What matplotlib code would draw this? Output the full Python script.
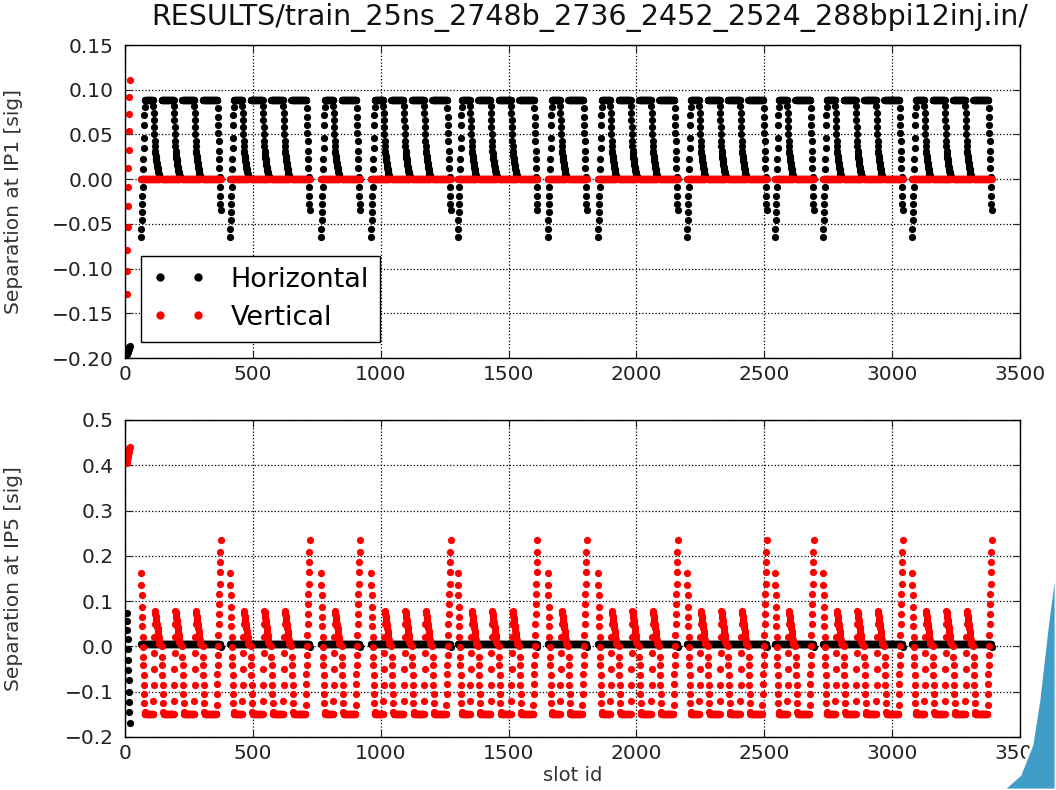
import numpy as np
import matplotlib
matplotlib.use("Agg")
import matplotlib.pyplot as plt
from matplotlib.patches import Polygon
from matplotlib.ticker import FuncFormatter

# filling scheme: start slot of each batch group, trains in each group
group_start = [63, 411, 767, 962, 1302, 1654, 1850, 2198, 2542, 2730, 3078]
trains_per_group = [4, 4, 2, 4, 4, 2, 4, 4, 2, 4, 4]
bunches_per_train = 72
train_spacing = 80

# 12 individual bunches at the start of the ring
ind_slots = [7, 8, 9, 10, 11, 12, 13, 14, 15, 16, 17, 18]
ind_ip1_h = [-0.196, -0.195, -0.194, -0.193, -0.192, -0.191, -0.190, -0.190, -0.189, -0.188, -0.188, -0.187]
ind_ip1_v = [-0.128, -0.103, -0.079, -0.054, -0.030, -0.009, 0.013, 0.033, 0.054, 0.073, 0.092, 0.111]
ind_ip5_h = [0.074, 0.056, 0.037, 0.017, -0.005, -0.031, -0.053, -0.075, -0.101, -0.123, -0.145, -0.170]
ind_ip5_v = [0.405, 0.410, 0.414, 0.418, 0.421, 0.424, 0.427, 0.430, 0.432, 0.435, 0.437, 0.440]

# IP1 horizontal, bunch by bunch along a train
ip1_h_flat = 0.088
ip1_h_first_head = [-0.065, -0.056, -0.046, -0.037, -0.028, -0.019, -0.009, 0.0,
                    0.011, 0.022, 0.035, 0.046, 0.061, 0.072, 0.081]
ip1_h_tail = [0.082, 0.074, 0.066, 0.058, 0.050, 0.043, 0.037, 0.032,
              0.029, 0.026, 0.024, 0.022, 0.020, 0.018, 0.016, 0.014,
              0.012, 0.011, 0.009, 0.008, 0.006, 0.005, 0.004, 0.003]
ip1_h_last_tail = [0.080, 0.070, 0.061, 0.052, 0.043, 0.031, 0.022, 0.013,
                   0.002, -0.009, -0.019, -0.028, -0.035]
ip1_v_flat = 0.0

# IP5 vertical, bunch by bunch along a train
ip5_v_flat = -0.150
ip5_v_first_head = [0.163, 0.135, 0.113, 0.088, 0.066, 0.044, 0.021, -0.002,
                    -0.024, -0.042, -0.064, -0.086, -0.104, -0.126, -0.145]
ip5_v_head = [0.0, -0.024, -0.042, -0.064, -0.086, -0.104, -0.126, -0.145]
ip5_v_tail = [-0.120, -0.085, -0.050, -0.015, 0.020, 0.050,
              0.079, 0.075, 0.071, 0.067, 0.063, 0.058, 0.054, 0.050, 0.046,
              0.043, 0.040, 0.035, 0.030, 0.025, 0.020, 0.015, 0.010, 0.006]
ip5_v_last_tail = [-0.130, -0.105, -0.083, -0.060, -0.040, -0.020, 0.0, 0.025,
                   0.050, 0.072, 0.094, 0.116, 0.138, 0.164, 0.186, 0.208, 0.234]
ip5_h_flat = 0.005
ip5_h_last_tail = [0.004, 0.002, -0.001]


def build_train(kind, flat, first_head, head, tail, last_tail):
    n = bunches_per_train
    if kind == 'first':
        vals = list(first_head) + [flat] * (n - len(first_head) - len(tail)) + list(tail)
    elif kind == 'last':
        vals = list(head) + [flat] * (n - len(head) - len(last_tail)) + list(last_tail)
    else:
        vals = list(head) + [flat] * (n - len(head) - len(tail)) + list(tail)
    return vals


slots = list(ind_slots)
ip1_h = list(ind_ip1_h)
ip1_v = list(ind_ip1_v)
ip5_h = list(ind_ip5_h)
ip5_v = list(ind_ip5_v)

for g0, nt in zip(group_start, trains_per_group):
    for k in range(nt):
        kind = 'first' if k == 0 else ('last' if k == nt - 1 else 'mid')
        t0 = g0 + k * train_spacing
        slots += list(range(t0, t0 + bunches_per_train))
        ip1_h += build_train(kind, ip1_h_flat, ip1_h_first_head, [], ip1_h_tail, ip1_h_last_tail)
        ip1_v += [ip1_v_flat] * bunches_per_train
        ip5_h += build_train(kind, ip5_h_flat, [], [], [], ip5_h_last_tail if kind == 'last' else [])
        ip5_v += build_train(kind, ip5_v_flat, ip5_v_first_head, ip5_v_head, ip5_v_tail, ip5_v_last_tail)

slots = np.array(slots)

plt.rcParams['font.family'] = ['DejaVu Sans']


def fmt(decimals):
    def f(v, pos):
        s = f'{v:.{decimals}f}'
        if float(s) == 0:
            s = f'{0:.{decimals}f}'
        return s.replace('-', '\u2212')
    return FuncFormatter(f)


fig = plt.figure(figsize=(10.56, 7.90), dpi=100)
ax1 = fig.add_axes([0.1184, 0.5468, 0.8475, 0.3962])
ax2 = fig.add_axes([0.1184, 0.0671, 0.8475, 0.4013])

ms = 5.2
for ax, h, v in [(ax1, ip1_h, ip1_v), (ax2, ip5_h, ip5_v)]:
    ax.plot(slots, h, 'o', color='k', ms=ms, mew=0, label='Horizontal')
    ax.plot(slots, v, 'o', color='r', ms=ms, mew=0, label='Vertical')
    ax.set_xlim(0, 3500)
    ax.grid(True, color='k', linestyle=':', linewidth=0.9)
    ax.tick_params(direction='in', top=True, right=True, length=5, width=0.8,
                   labelsize=14.5, colors='#222222')
    ax.tick_params(axis='y', pad=8)
    ax.tick_params(axis='x', pad=5)
    for sp in ax.spines.values():
        sp.set_linewidth(1.0)

ax1.set_ylim(-0.2, 0.15)
ax1.set_yticks(np.arange(-0.20, 0.151, 0.05))
ax1.yaxis.set_major_formatter(fmt(2))
ax1.set_ylabel('Separation at IP1 [sig]', fontsize=14.5, color='#333333')
ax1.yaxis.set_label_coords(-0.114, 0.5)

ax2.set_ylim(-0.2, 0.5)
ax2.set_yticks(np.arange(-0.2, 0.51, 0.1))
ax2.yaxis.set_major_formatter(fmt(1))
ax2.set_ylabel('Separation at IP5 [sig]', fontsize=14.5, color='#333333')
ax2.yaxis.set_label_coords(-0.114, 0.5)
ax2.set_xlabel('slot id', fontsize=14, color='#333333', labelpad=2)

leg = ax1.legend(loc='lower left', numpoints=2, markerscale=1.15, fontsize=19.5,
                 fancybox=False, framealpha=1, edgecolor='k', borderaxespad=0.6,
                 handlelength=2.0, handletextpad=0.9, borderpad=0.4, labelspacing=0.45)
leg.get_frame().set_linewidth(1.0)

fig.text(590 / 1056, 1 - 17 / 790, 'RESULTS/train_25ns_2748b_2736_2452_2524_288bpi12inj.in/',
         ha='center', va='center', fontsize=20.5, color='#111111')

# slide decoration in the lower right corner
W, H = 1056, 790
pts = [(1056, 560), (1047, 630), (1039, 700), (1032, 745), (1020, 775), (1003, 790), (1056, 790)]
fig.patches.append(Polygon([(x / W, 1 - y / H) for x, y in pts], closed=True,
                           transform=fig.transFigure, facecolor='#3f9dc8',
                           edgecolor='white', linewidth=2, zorder=5))

fig.savefig('out.png', dpi=100)
